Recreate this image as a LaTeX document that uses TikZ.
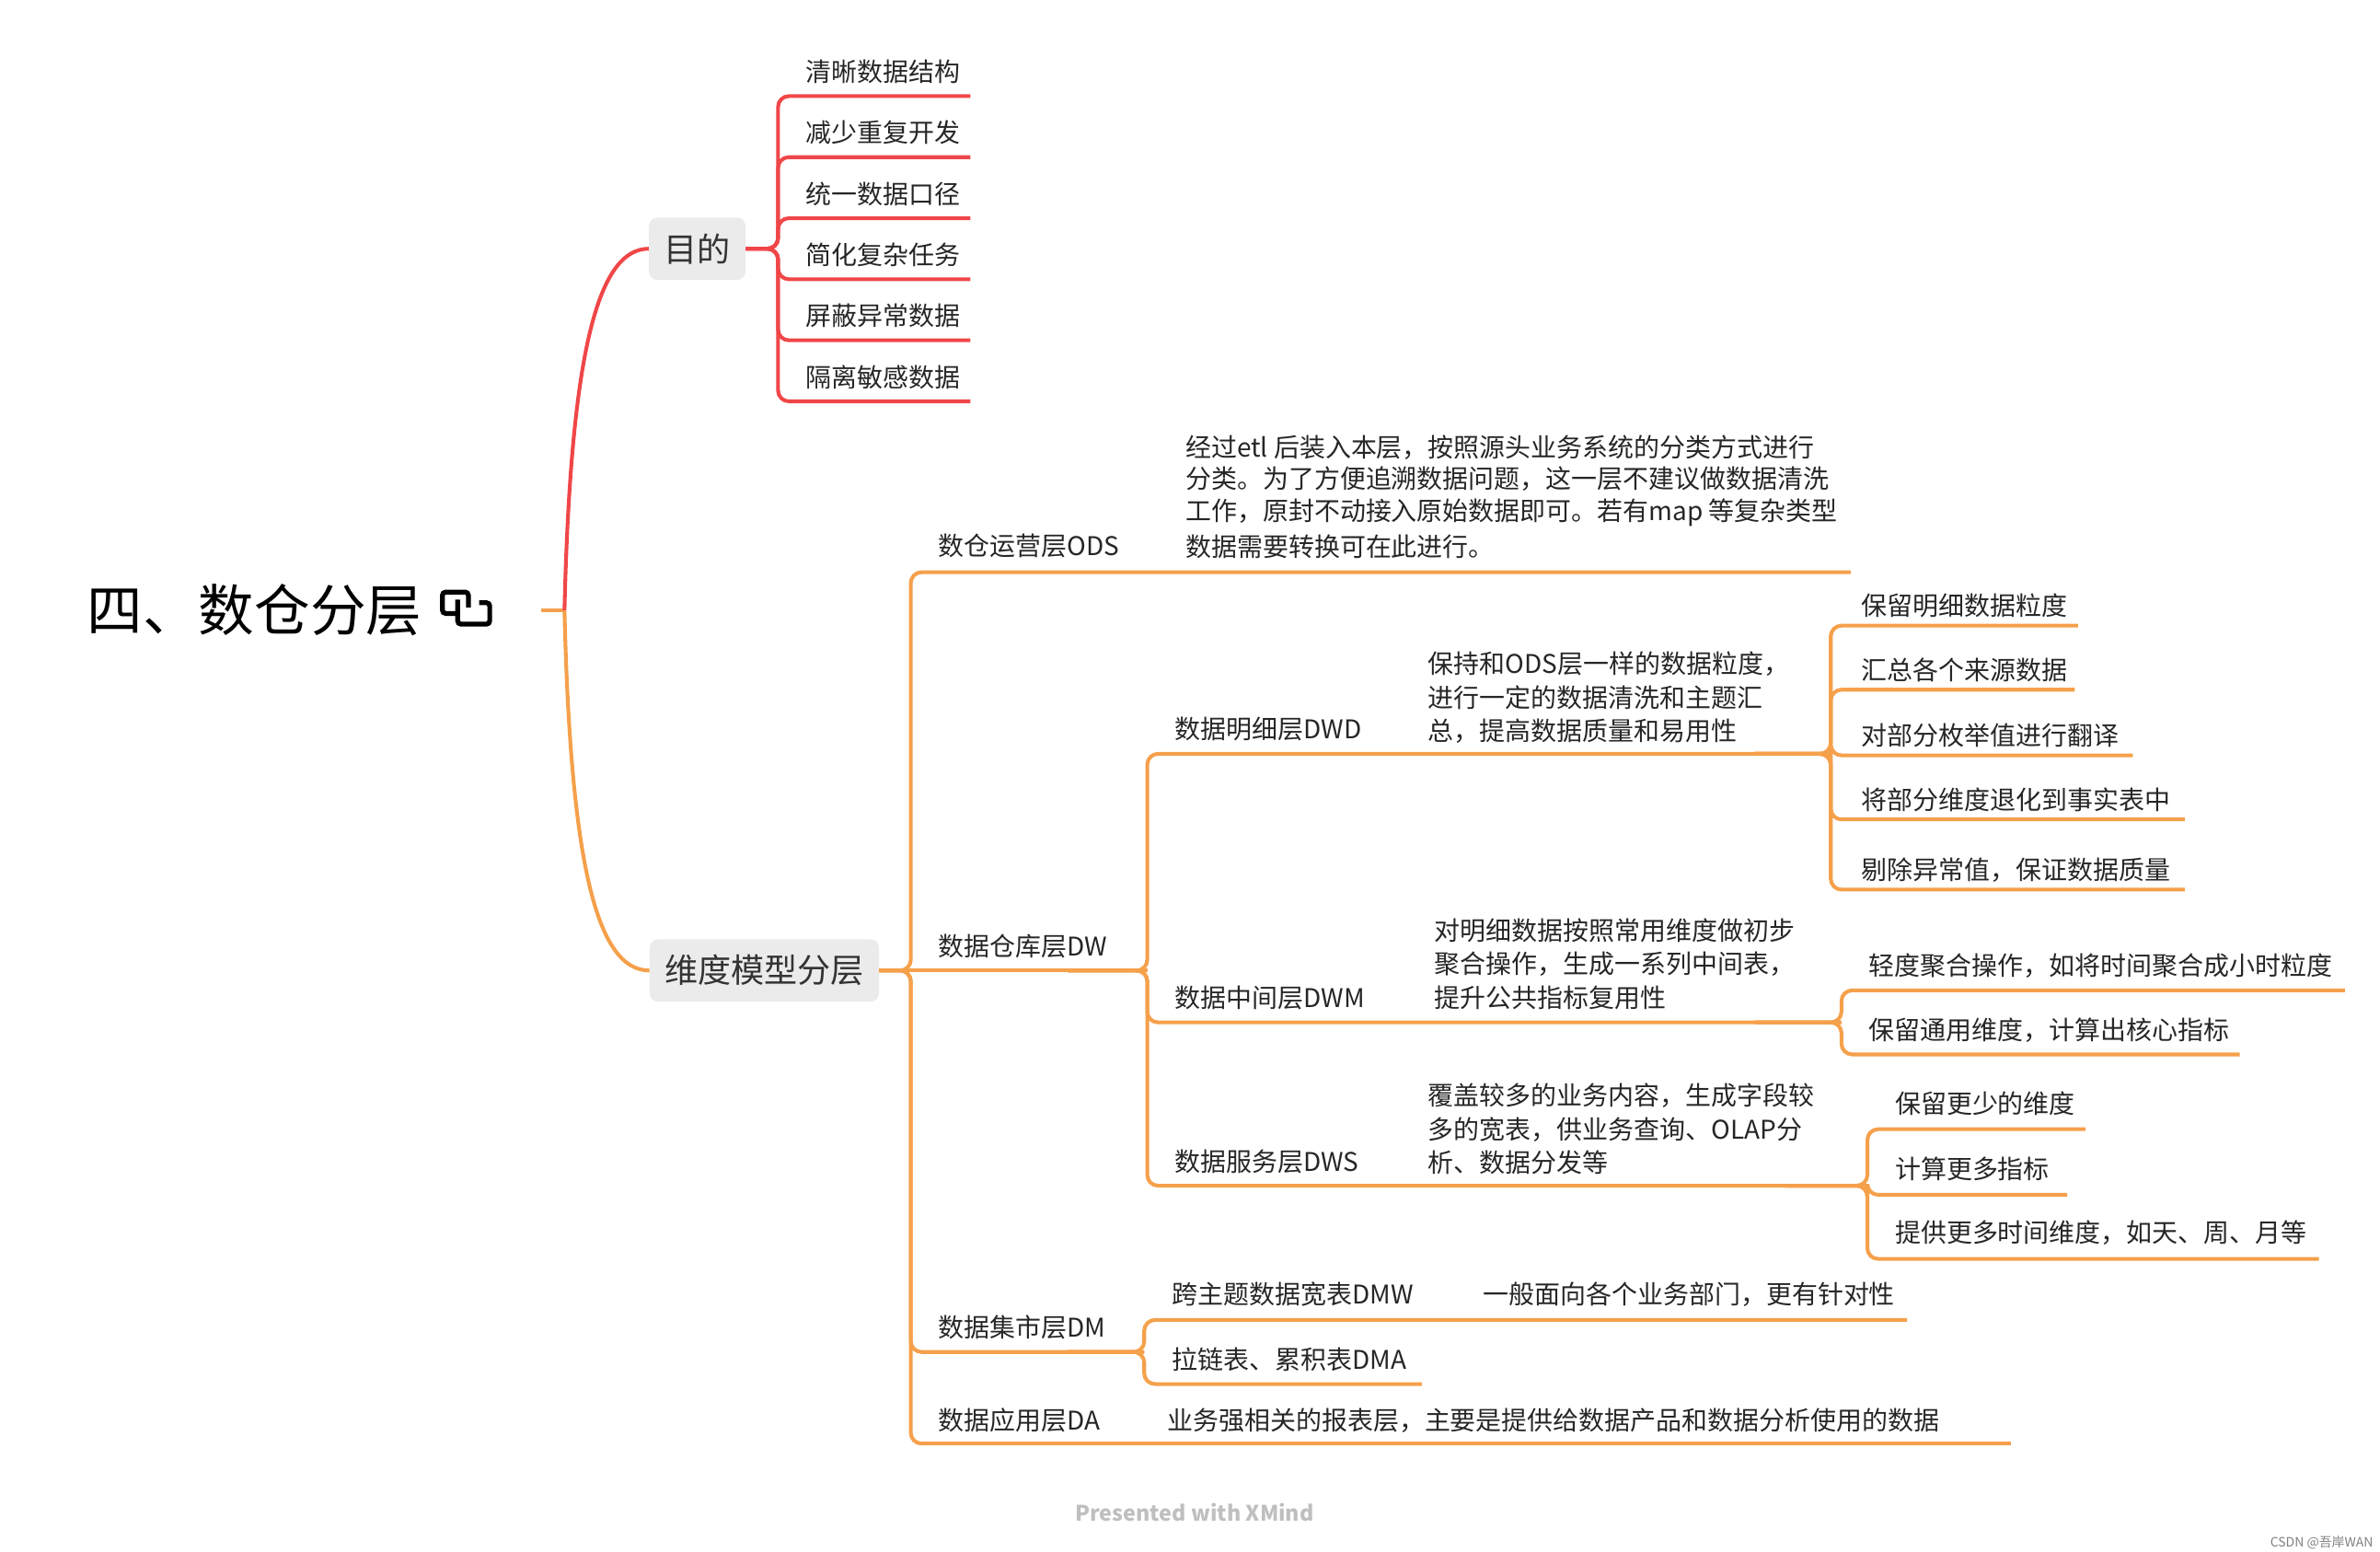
\documentclass[tikz,border=0pt]{standalone}
\usepackage{fontspec}
\setmainfont{Noto Sans CJK SC}
\begin{document}
\begin{tikzpicture}[x=0.05cm,y=-0.05cm,
  t/.style={anchor=west,font=\fontsize{24}{31}\selectfont,inner sep=0pt,text=black!85},
  red/.style={draw={rgb,255:red,240;green,70;blue,72},line width=3.5pt,rounded corners=10pt},
  org/.style={draw={rgb,255:red,245;green,160;blue,75},line width=3.5pt,rounded corners=10pt},
  box/.style={fill=black!8,rounded corners=8pt,font=\fontsize{31}{36}\selectfont,text=black!80,minimum height=41*1.42pt,inner xsep=14pt}]
\useasboundingbox (0,0) rectangle (1560,1017);
% root
\node[anchor=west,inner sep=0,font=\fontsize{52}{60}\selectfont] (root) at (57,400) {四、数仓分层};
\draw[line width=4.5pt,rounded corners=3pt] (299,402) -- (290,402) -- (290,388) -- (307,388) -- (307,398);
\draw[line width=4.5pt,rounded corners=3pt] (300,393) -- (300,409) -- (321,409) -- (321,395) -- (314,395);
\coordinate (r0) at (355,400); \coordinate (r1) at (370,400);
\draw[org,rounded corners=0] (r0) -- (r1);
\node[box] (mudi) at (457,163) {目的};
\node[box] (wd) at (501,636) {维度模型分层};
\draw[red,rounded corners=0] (r1) .. controls (374,230) and (392,163) .. (mudi.west);
\draw[org,rounded corners=0] (r1) .. controls (374,570) and (392,636) .. (wd.west);
% 目的 children
\foreach \y/\s in {63/清晰数据结构,103/减少重复开发,143/统一数据口径,183/简化复杂任务,223/屏蔽异常数据,263/隔离敏感数据}{
  \draw[red] (mudi.east) -- (510,163) -- (510,\y) -- (636,\y);
  \node[t] at (528,\y-16) {\s};}
% level 2
\draw[org] (wd.east) -- (597,636) -- (597,375) -- (1213,375);
\node[t] (ods) at (615,358) {数仓运营层ODS};
\foreach \y/\s in {293/{经过etl 后装入本层，按照源头业务系统的分类方式进行},314/{分类。为了方便追溯数据问题，这一层不建议做数据清洗},336/{工作，原封不动接入原始数据即可。若有map 等复杂类型},358/{数据需要转换可在此进行。}}
  \node[t] at (777,\y) {\s};
\draw[org] (wd.east) -- (752,636);
\node[t] (dw) at (615,620) {数据仓库层DW};
\draw[org] (wd.east) -- (597,636) -- (597,886) -- (750,886);
\node[t] (dm) at (615,870) {数据集市层DM};
\draw[org] (wd.east) -- (597,636) -- (597,946) -- (1318,946);
\node[t] (da) at (615,931) {数据应用层DA};
\node[t] at (765,931) {业务强相关的报表层，主要是提供给数据产品和数据分析使用的数据};
% DW children
\draw[org] (700,636) -- (752,636) -- (752,494) -- (1200,494);
\draw[org] (700,636) -- (752,636) -- (752,670) -- (1207,670);
\draw[org] (700,636) -- (752,636) -- (752,777) -- (1224,777);
\node[t] (dwd) at (770,478) {数据明细层DWD};
\node[t] (dwm) at (770,654) {数据中间层DWM};
\node[t] (dws) at (770,761) {数据服务层DWS};
\foreach \y/\s in {435/{保持和ODS层一样的数据粒度，},457/{进行一定的数据清洗和主题汇},479/{总，提高数据质量和易用性}}
  \node[t] at (936,\y) {\s};
\foreach \y/\s in {610/{对明细数据按照常用维度做初步},632/{聚合操作，生成一系列中间表，},654/{提升公共指标复用性}}
  \node[t] at (940,\y) {\s};
\foreach \y/\s in {718/{覆盖较多的业务内容，生成字段较},740/{多的宽表，供业务查询、OLAP分},762/{析、数据分发等}}
  \node[t] at (936,\y) {\s};
\foreach \y/\e/\s in {410/1362/保留明细数据粒度,452/1360/汇总各个来源数据,495/1398/对部分枚举值进行翻译,537/1432/将部分维度退化到事实表中,583/1432/{剔除异常值，保证数据质量}}{
  \draw[org] (1150,494) -- (1200,494) -- (1200,\y) -- (\e,\y);
  \node[t] at (1220,\y-13) {\s};}
\foreach \y/\e/\s in {649/1537/{轻度聚合操作，如将时间聚合成小时粒度},691/1468/{保留通用维度，计算出核心指标}}{
  \draw[org] (1150,670) -- (1207,670) -- (1207,\y) -- (\e,\y);
  \node[t] at (1225,\y-16) {\s};}
\foreach \y/\e/\s in {740/1367/保留更少的维度,783/1355/计算更多指标,825/1520/{提供更多时间维度，如天、周、月等}}{
  \draw[org] (1170,777) -- (1224,777) -- (1224,\y) -- (\e,\y);
  \node[t] at (1242,\y-17) {\s};}
% DM children
\draw[org] (700,886) -- (750,886) -- (750,865) -- (1250,865);
\draw[org] (700,886) -- (750,886) -- (750,907) -- (932,907);
\node[t] at (768,848) {跨主题数据宽表DMW};
\node[t] at (972,848) {一般面向各个业务部门，更有针对性};
\node[t] at (768,891) {拉链表、累积表DMA};
% footer
\node[font=\bfseries\fontsize{20}{24}\selectfont,text=black!25] at (783,991) {Presented with XMind};
\node[font=\fontsize{12}{14}\selectfont,text=black!50,anchor=east] at (1558,1011) {CSDN @吾岸WAN};
\end{tikzpicture}
\end{document}
